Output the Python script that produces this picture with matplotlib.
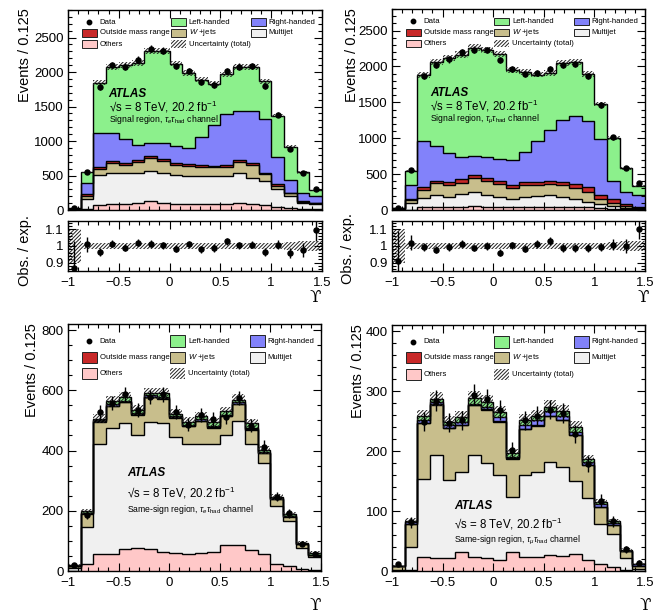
import numpy as np
import matplotlib
matplotlib.use('Agg')
import matplotlib.pyplot as plt
from matplotlib.patches import Rectangle
from matplotlib.ticker import MultipleLocator

plt.rcParams['font.family'] = ['Liberation Sans', 'DejaVu Sans']
plt.rcParams['mathtext.fontset'] = 'custom'
plt.rcParams['mathtext.rm'] = 'Liberation Sans'
plt.rcParams['mathtext.it'] = 'Liberation Sans:italic'
plt.rcParams['mathtext.bf'] = 'Liberation Sans:bold'
plt.rcParams['hatch.linewidth'] = 0.7
plt.rcParams['hatch.color'] = '#222222'

# ---------------- data ----------------
edges = np.linspace(-1.0, 1.5, 21)
x_ticks = [-1, -0.5, 0, 0.5, 1, 1.5]
x_tick_labels = ['\u22121', '\u22120.5', '0', '0.5', '1', '1.5']
component_names = ['Others', 'Multijet', 'W+jets', 'Outside mass range', 'Right-handed', 'Left-handed']

# Top-left: signal region, tau_e tau_had
tl_others = [2, 15, 75, 80, 85, 95, 130, 105, 90, 85, 85, 80, 85, 95, 80, 75, 44, 30, 15, 10]
tl_multijet = [6, 140, 435, 460, 445, 445, 440, 435, 415, 405, 408, 413, 415, 446, 389, 346, 256, 173, 91, 72]
tl_wjets = [4, 50, 90, 140, 125, 160, 180, 165, 150, 145, 132, 127, 125, 154, 181, 99, 55, 37, 14, 16]
tl_outside = [3, 22, 28, 30, 31, 30, 33, 30, 31, 27, 25, 25, 25, 30, 26, 21, 17, 11, 10, 8]
tl_right = [5, 160, 493, 402, 339, 208, 194, 232, 242, 242, 414, 583, 738, 711, 760, 774, 390, 190, 110, 94]
tl_left = [12, 158, 725, 959, 1076, 1199, 1331, 1334, 1196, 1086, 824, 604, 577, 636, 637, 552, 607, 478, 304, 83]
tl_data = [28, 550, 1780, 2100, 2080, 2180, 2340, 2310, 2090, 2010, 1850, 1810, 2020, 2080, 2090, 1800, 1380, 880, 530, 310]
tl_ratio = [0.868, 1.01, 0.964, 1.014, 0.99, 1.02, 1.014, 1.004, 0.984, 1.01, 0.98, 0.988, 1.028, 1.004, 1.008, 0.964, 1.008, 0.958, 0.974, 1.094]
tl_unc = [0.10, 0.02, 0.02, 0.02, 0.02, 0.02, 0.02, 0.02, 0.02, 0.02, 0.02, 0.02, 0.02, 0.02, 0.02, 0.02, 0.02, 0.024, 0.028, 0.03]

# Top-right: signal region, tau_mu tau_had
tr_others = [2, 5, 35, 40, 40, 45, 55, 45, 40, 40, 45, 45, 45, 40, 40, 35, 25, 18, 10, 5]
tr_multijet = [7, 88, 135, 175, 146, 175, 198, 170, 146, 115, 140, 150, 165, 145, 115, 80, 60, 37, 18, 13]
tr_wjets = [5, 47, 110, 155, 169, 160, 187, 185, 179, 155, 160, 155, 155, 160, 145, 130, 75, 45, 22, 12]
tr_outside = [4, 20, 35, 40, 30, 45, 50, 40, 40, 35, 40, 40, 45, 50, 60, 75, 50, 50, 30, 12]
tr_right = [7, 190, 640, 485, 405, 320, 265, 295, 310, 355, 425, 570, 705, 862, 953, 920, 780, 260, 175, 173]
tr_left = [5, 200, 925, 1170, 1323, 1420, 1507, 1495, 1462, 1252, 1111, 924, 792, 788, 747, 653, 484, 592, 325, 121]
tr_data = [25, 560, 1870, 2020, 2100, 2195, 2235, 2230, 2090, 1960, 1890, 1910, 1960, 2020, 2035, 1870, 1465, 1010, 580, 370]
tr_ratio = [0.91, 1.02, 0.994, 0.978, 0.994, 1.014, 0.988, 1.0, 0.96, 1.004, 0.984, 1.014, 1.028, 0.988, 0.988, 0.988, 0.994, 1.008, 1.0, 1.10]
tr_unc = [0.10, 0.02, 0.02, 0.02, 0.02, 0.02, 0.02, 0.02, 0.02, 0.02, 0.02, 0.02, 0.02, 0.02, 0.02, 0.02, 0.02, 0.024, 0.028, 0.03]

# Bottom-left: same-sign region, tau_e tau_had
bl_others = [0, 22, 55, 55, 72, 75, 72, 63, 60, 58, 61, 63, 85, 85, 71, 58, 22, 15, 5, 2]
bl_multijet = [11, 123, 365, 420, 418, 375, 421, 428, 385, 364, 361, 357, 367, 412, 351, 302, 193, 152, 73, 45]
bl_wjets = [4, 45, 75, 72, 70, 68, 84, 80, 63, 58, 75, 55, 61, 56, 47, 31, 23, 13, 10, 7]
bl_outside = [0, 1, 2, 2, 2, 2, 2, 2, 2, 2, 2, 2, 2, 2, 2, 2, 1, 1, 0, 0]
bl_right = [0, 2, 3, 4, 4, 4, 4, 4, 4, 4, 4, 4, 4, 5, 5, 3, 2, 1, 1, 0]
bl_left = [5, 5, 5, 10, 11, 11, 7, 13, 8, 9, 10, 12, 11, 9, 15, 6, 6, 6, 5, 6]
bl_data = [19, 186, 528, 558, 586, 535, 578, 586, 528, 486, 519, 504, 511, 575, 482, 413, 247, 191, 91, 56]
bl_unc = [0.15, 0.04, 0.03, 0.03, 0.03, 0.03, 0.03, 0.03, 0.03, 0.03, 0.03, 0.03, 0.03, 0.03, 0.03, 0.03, 0.04, 0.04, 0.06, 0.08]

# Bottom-right: same-sign region, tau_mu tau_had
br_others = [0, 1, 23, 22, 21, 31, 24, 22, 19, 31, 23, 24, 27, 25, 28, 19, 11, 7, 1, 0]
br_multijet = [2, 39, 131, 172, 131, 134, 170, 158, 141, 92, 137, 141, 154, 148, 122, 103, 68, 54, 20, 4]
br_wjets = [6, 39, 92, 83, 86, 78, 82, 89, 89, 64, 76, 77, 77, 78, 76, 54, 28, 16, 12, 5]
br_outside = [0, 0, 1, 1, 1, 1, 1, 1, 1, 1, 1, 1, 1, 1, 1, 1, 0, 0, 0, 0]
br_right = [0, 2, 4, 4, 4, 5, 2, 3, 7, 2, 6, 8, 7, 6, 5, 5, 4, 3, 1, 2]
br_left = [1, 3, 7, 5, 5, 7, 10, 9, 8, 6, 8, 7, 8, 8, 8, 4, 4, 3, 1, 1]
br_data = [11, 81, 249, 284, 247, 251, 294, 286, 268, 201, 251, 259, 269, 263, 229, 179, 117, 83, 36, 14]
br_unc = [0.2, 0.05, 0.04, 0.04, 0.04, 0.04, 0.04, 0.04, 0.04, 0.04, 0.04, 0.04, 0.04, 0.04, 0.04, 0.04, 0.05, 0.05, 0.08, 0.12]

# ---------------- style ----------------
COLORS = ['#FFC8C8', '#F0F0F0', '#C8BE8C', '#C82828', '#8282FA', '#8CF08C']
W, H = 660, 613
TICK_FS = 9.5
LABEL_FS = 10.5
LEG_FS = 5.6
HATCH = '/////////'


def rect(l, t, r, b):
    return [l / W, 1 - b / H, (r - l) / W, (b - t) / H]


def style_axes(ax, xlabels=True):
    ax.set_xlim(-1, 1.5)
    ax.set_xticks(x_ticks)
    ax.xaxis.set_minor_locator(MultipleLocator(0.1))
    if xlabels:
        ax.set_xticklabels(x_tick_labels)
    else:
        ax.set_xticklabels([])
    ax.tick_params(which='both', direction='in', top=True, right=True, labelsize=TICK_FS, width=0.8)
    ax.tick_params(which='major', length=6, pad=3)
    ax.tick_params(axis='x', which='major', pad=4)
    ax.tick_params(which='minor', length=3)
    for s in ax.spines.values():
        s.set_linewidth(1.0)


def draw_main(ax, comps, data, unc, ymax, major, minor, xlabels):
    bottom = np.zeros(len(edges) - 1)
    tops = []
    for vals, col in zip(comps, COLORS):
        vals = np.asarray(vals, float)
        top = bottom + vals
        ax.stairs(top, edges, baseline=bottom, fill=True, color=col, lw=0)
        tops.append(top)
        bottom = top
    for top in tops:
        ax.stairs(top, edges, baseline=None, color='black', lw=1.0)
    total = bottom
    u = np.asarray(unc)
    ax.stairs(total * (1 + u), edges, baseline=total * (1 - u), fill=True,
              facecolor='none', edgecolor='#222222', hatch=HATCH, lw=0)
    centers = 0.5 * (edges[1:] + edges[:-1])
    d = np.asarray(data, float)
    ax.errorbar(centers, d, yerr=np.sqrt(d), fmt='o', color='black', ms=3.6,
                elinewidth=1.0, capsize=0)
    ax.set_ylim(0, ymax)
    ax.yaxis.set_major_locator(MultipleLocator(major))
    ax.yaxis.set_minor_locator(MultipleLocator(minor))
    style_axes(ax, xlabels)


def draw_ratio(ax, ratio, data, unc):
    u = np.asarray(unc)
    ones = np.ones(len(u))
    ax.stairs(ones + u, edges, baseline=ones - u, fill=True, facecolor='none',
              edgecolor='#222222', hatch=HATCH, lw=0)
    centers = 0.5 * (edges[1:] + edges[:-1])
    r = np.asarray(ratio)
    err = r / np.sqrt(np.asarray(data, float))
    ax.errorbar(centers, r, yerr=err, fmt='o', color='black', ms=3.6,
                elinewidth=1.0, capsize=0)
    ax.set_ylim(0.85, 1.15)
    ax.set_yticks([0.9, 1.0, 1.1])
    ax.set_yticklabels(['0.9', '1', '1.1'])
    ax.yaxis.set_minor_locator(MultipleLocator(0.02))
    style_axes(ax, True)


def draw_legend(ax, rows_y, box_h):
    col_l = [0.055, 0.405, 0.72]
    box_w = 0.058
    entries = [
        [('Data', 'data'), ('Left-handed', COLORS[5]), ('Right-handed', COLORS[4])],
        [('Outside mass range', COLORS[3]), ('$W$ +jets', COLORS[2]), ('Multijet', COLORS[1])],
        [('Others', COLORS[0]), ('Uncertainty (total)', 'hatch'), None],
    ]
    for row, y in zip(entries, rows_y):
        for ent, xl in zip(row, col_l):
            if ent is None:
                continue
            label, kind = ent
            if kind == 'data':
                ax.plot([xl + box_w / 2], [y], 'o', color='black', ms=3.2,
                        transform=ax.transAxes, clip_on=False)
            elif kind == 'hatch':
                ax.add_patch(Rectangle((xl, y - box_h / 2), box_w, box_h, transform=ax.transAxes,
                                       facecolor='white', edgecolor='#222222', hatch=HATCH, lw=0))
            else:
                ax.add_patch(Rectangle((xl, y - box_h / 2), box_w, box_h, transform=ax.transAxes,
                                       facecolor=kind, edgecolor='#222222', lw=0.7))
            ax.text(xl + box_w + 0.012, y, label, transform=ax.transAxes, fontsize=LEG_FS,
                    va='center', ha='left')


def draw_atlas(ax, x, y, dy1, dy2, region):
    ax.text(x, y, 'ATLAS', transform=ax.transAxes, fontsize=8.5, fontweight='bold',
            fontstyle='italic', va='center', ha='left')
    ax.text(x, y - dy1, '\u221As = 8 TeV, 20.2 fb$^{-1}$', transform=ax.transAxes,
            fontsize=8.3, va='center', ha='left')
    ax.text(x, y - dy1 - dy2, region, transform=ax.transAxes, fontsize=6.2,
            va='center', ha='left')


fig = plt.figure(figsize=(W / 100, H / 100), dpi=100)

# ---- top-left ----
ax1 = fig.add_axes(rect(68, 10, 322, 210))
draw_main(ax1, [tl_others, tl_multijet, tl_wjets, tl_outside, tl_right, tl_left],
          tl_data, tl_unc, 2900, 500, 100, False)
draw_legend(ax1, [0.94, 0.885, 0.83], 0.035)
draw_atlas(ax1, 0.16, 0.58, 0.064, 0.066, r'Signal region, $\tau_{e}\tau_{\rm had}$ channel')
ax1r = fig.add_axes(rect(68, 221, 322, 271))
draw_ratio(ax1r, tl_ratio, tl_data, tl_unc)

# ---- top-right ----
ax2 = fig.add_axes(rect(392, 9, 645, 210))
draw_main(ax2, [tr_others, tr_multijet, tr_wjets, tr_outside, tr_right, tr_left],
          tr_data, tr_unc, 2800, 500, 100, False)
draw_legend(ax2, [0.94, 0.885, 0.83], 0.035)
draw_atlas(ax2, 0.15, 0.58, 0.064, 0.066, r'Signal region, $\tau_{\mu}\tau_{\rm had}$ channel')
ax2r = fig.add_axes(rect(392, 221, 645, 271))
draw_ratio(ax2r, tr_ratio, tr_data, tr_unc)

# ---- bottom-left ----
ax3 = fig.add_axes(rect(68, 324, 321, 571))
draw_main(ax3, [bl_others, bl_multijet, bl_wjets, bl_outside, bl_right, bl_left],
          bl_data, bl_unc, 820, 200, 50, True)
draw_legend(ax3, [0.931, 0.866, 0.798], 0.045)
draw_atlas(ax3, 0.235, 0.398, 0.08, 0.068, r'Same-sign region, $\tau_{e}\tau_{\rm had}$ channel')

# ---- bottom-right ----
ax4 = fig.add_axes(rect(392, 325, 645, 571))
draw_main(ax4, [br_others, br_multijet, br_wjets, br_outside, br_right, br_left],
          br_data, br_unc, 410, 100, 20, True)
draw_legend(ax4, [0.931, 0.866, 0.798], 0.045)
draw_atlas(ax4, 0.245, 0.265, 0.072, 0.07, r'Same-sign region, $\tau_{\mu}\tau_{\rm had}$ channel')

# axis titles
for (x, y) in [(25, 8), (352, 8), (32, 323), (358, 324)]:
    fig.text(x / W, 1 - y / H, 'Events / 0.125', rotation=90, ha='center', va='top', fontsize=LABEL_FS)
for (x, y) in [(25, 215), (348, 213)]:
    fig.text(x / W, 1 - y / H, 'Obs. / exp.', rotation=90, ha='center', va='top', fontsize=LABEL_FS)
for (x, y) in [(315, 298), (643, 298), (315, 605), (645, 605)]:
    fig.text(x / W, 1 - y / H, '\u03D2', ha='center', va='center', fontsize=12,
             family=['DejaVu Serif', 'DejaVu Sans'])

fig.savefig('out.png', dpi=100)
